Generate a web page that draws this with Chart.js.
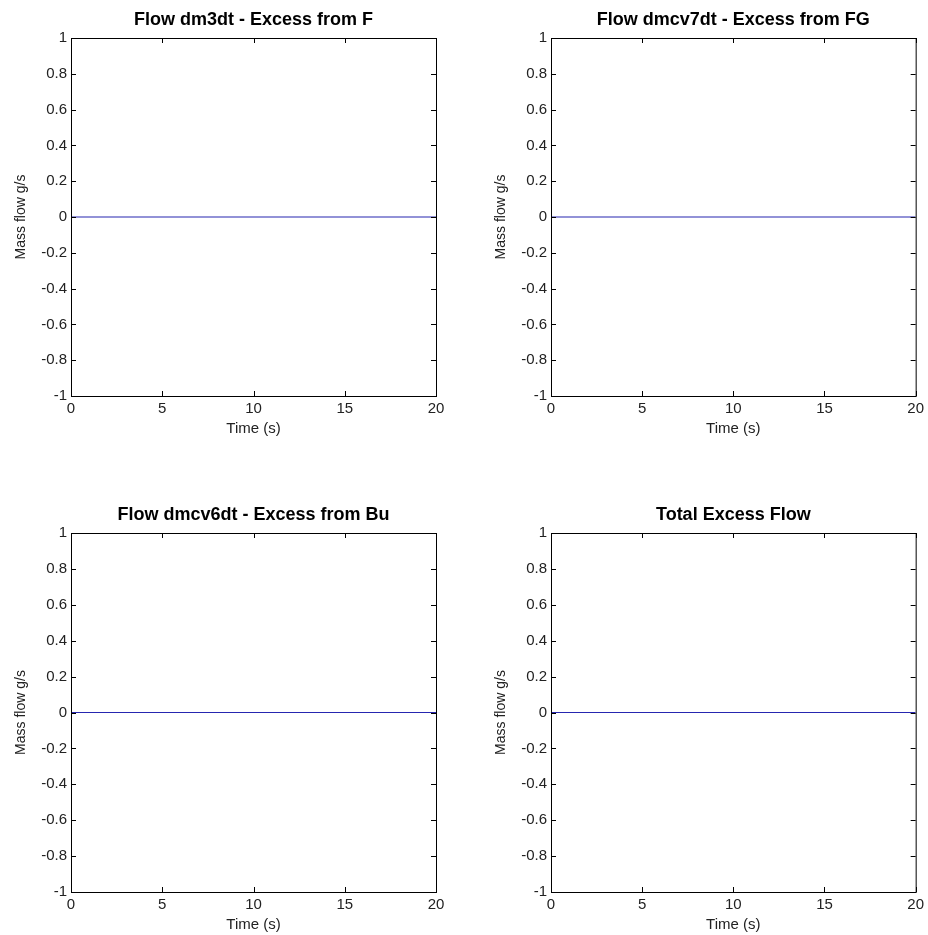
<!DOCTYPE html>
<html>
<head>
<meta charset="utf-8">
<script src="https://cdn.jsdelivr.net/npm/chart.js@4.4.1/dist/chart.umd.min.js"></script>
<style>
  html, body { margin: 0; padding: 0; background: #fff; }
  body { width: 928px; height: 935px; position: relative; overflow: hidden; }
  .panel { position: absolute; }
  canvas { display: block; }
</style>
</head>
<body>
<div class="panel" style="left:0;top:0;"><canvas id="c1" width="464" height="467"></canvas></div>
<div class="panel" style="left:464px;top:0;"><canvas id="c2" width="464" height="467"></canvas></div>
<div class="panel" style="left:0;top:467px;"><canvas id="c3" width="464" height="468"></canvas></div>
<div class="panel" style="left:464px;top:467px;"><canvas id="c4" width="464" height="468"></canvas></div>
<script>
// ---- data ----
const titles = [
  'Flow dm3dt - Excess from F',
  'Flow dmcv7dt - Excess from FG',
  'Flow dmcv6dt - Excess from Bu',
  'Total Excess Flow'
];
const timeSeconds = [0, 5, 10, 15, 20];
const flowDm3dt = [0, 0, 0, 0, 0];
const flowDmcv7dt = [0, 0, 0, 0, 0];
const flowDmcv6dt = [0, 0, 0, 0, 0];
const flowTotal = [0, 0, 0, 0, 0];
const xLabel = 'Time (s)';
const yLabel = 'Mass flow g/s';
const xRange = [0, 20];
const xStep = 5;
const yRange = [-1, 1];
const yStep = 0.2;

const FONT = "'Liberation Sans', Arial, sans-serif";

const boxTicks = {
  id: 'boxTicks',
  afterDatasetsDraw(chart) {
    const { ctx, chartArea: { left, right, top, bottom }, scales: { x, y } } = chart;
    ctx.save();
    ctx.strokeStyle = '#000';
    ctx.lineWidth = 1;
    ctx.beginPath();
    x.ticks.forEach(t => {
      const px = Math.round(x.getPixelForValue(t.value)) + 0.5;
      ctx.moveTo(px, bottom); ctx.lineTo(px, bottom - 5);
      ctx.moveTo(px, top); ctx.lineTo(px, top + 5);
    });
    y.ticks.forEach(t => {
      const py = Math.round(y.getPixelForValue(t.value)) + 0.5;
      ctx.moveTo(left, py); ctx.lineTo(left + 5, py);
      ctx.moveTo(right, py); ctx.lineTo(right - 5, py);
    });
    ctx.stroke();
    ctx.strokeRect(left + 0.5, top + 0.5, right - left, bottom - top);
    ctx.restore();
  }
};

function makeChart(id, title, values, geom) {
  const pts = timeSeconds.map((t, i) => ({ x: t, y: values[i] }));
  return new Chart(document.getElementById(id), {
    type: 'line',
    data: { datasets: [{ data: pts, borderColor: '#2626b0', borderWidth: 1.2, pointRadius: 0, tension: 0, fill: false }] },
    options: {
      responsive: false,
      animation: false,
      events: [],
      layout: { padding: { left: 0, right: geom.padRight, top: 0, bottom: 0 } },
      plugins: {
        legend: { display: false },
        tooltip: { enabled: false },
        title: {
          display: true, text: title, fullSize: false, color: '#000',
          font: { family: FONT, size: 18, weight: 'bold', lineHeight: 1.2 },
          padding: { top: geom.titleTop, bottom: 7.2 }
        }
      },
      scales: {
        x: {
          type: 'linear', min: xRange[0], max: xRange[1],
          grid: { display: false, drawTicks: false },
          border: { display: false },
          ticks: { stepSize: xStep, padding: 4, color: '#222', maxRotation: 0, font: { family: FONT, size: 15 } },
          title: { display: true, text: xLabel, color: '#222', font: { family: FONT, size: 15, lineHeight: 1.2 }, padding: { top: 0, bottom: geom.xTitlePad } },
          afterFit(s) { s.height = geom.xHeight; }
        },
        y: {
          type: 'linear', min: yRange[0], max: yRange[1],
          grid: { display: false, drawTicks: false },
          border: { display: false },
          ticks: {
            stepSize: yStep, padding: 4, color: '#222', font: { family: FONT, size: 15 },
            callback: v => String(Number(v.toFixed(1)))
          },
          title: { display: true, text: yLabel, color: '#222', font: { family: FONT, size: 14, lineHeight: 1.2 }, padding: { top: geom.yTitlePad, bottom: 0 } },
          afterFit(s) { s.width = geom.yWidth; }
        }
      }
    },
    plugins: [boxTicks]
  });
}

makeChart('c1', titles[0], flowDm3dt, { padRight: 28, titleTop: 9.2, xHeight: 71, xTitlePad: 29, yWidth: 71, yTitlePad: 13 });
makeChart('c2', titles[1], flowDmcv7dt, { padRight: 11, titleTop: 9.2, xHeight: 71, xTitlePad: 29, yWidth: 87, yTitlePad: 29 });
makeChart('c3', titles[2], flowDmcv6dt, { padRight: 28, titleTop: 37.2, xHeight: 43, xTitlePad: 1, yWidth: 71, yTitlePad: 13 });
makeChart('c4', titles[3], flowTotal, { padRight: 11, titleTop: 37.2, xHeight: 43, xTitlePad: 1, yWidth: 87, yTitlePad: 29 });
</script>
</body>
</html>
